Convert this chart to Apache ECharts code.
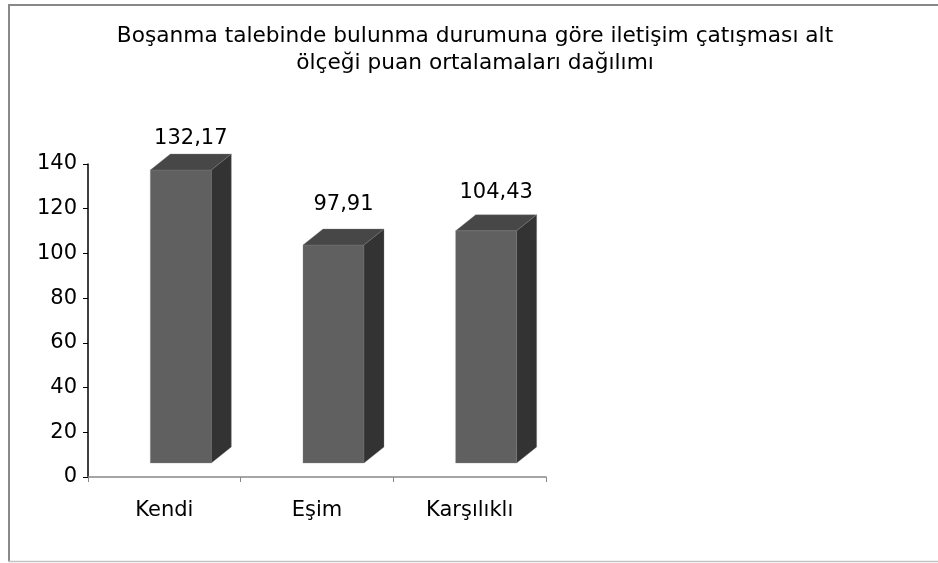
<!DOCTYPE html>
<html>
<head>
<meta charset="utf-8">
<script src="https://cdn.jsdelivr.net/npm/echarts@6/dist/echarts.min.js"></script>
<style>
  html, body { margin: 0; padding: 0; background: #fff; }
  #chart { width: 938px; height: 563px; }
</style>
</head>
<body>
<div id="chart"></div>
<script>
const titleText = 'Boşanma talebinde bulunma durumuna göre iletişim çatışması alt\nölçeği puan ortalamaları dağılımı';
const categories = ['Kendi', 'Eşim', 'Karşılıklı'];
const values = [132.17, 97.91, 104.43];
const yTicks = { min: 0, max: 140, interval: 20 };

const font = '"DejaVu Sans", sans-serif';

// excel style 3d column: front face, top, right side
function renderBar(params, api) {
  const idx = api.value(0);
  const v = api.value(1);
  const base = api.coord([idx, 0]);
  const top = api.coord([idx, v]);
  const cx = base[0], y0 = base[1];
  const h = y0 - top[1];
  const dx = 20, dy = 16, w = 61;
  const fl = cx - 14, fr = fl + w;
  const fb = y0 - 14;
  const ft = y0 - 17.7 - h * 0.979;
  const edge = { stroke: 'rgba(130,130,130,0.55)', lineWidth: 0.6 };
  return {
    type: 'group',
    children: [
      { type: 'polygon', shape: { points: [[fl, ft], [fr, ft], [fr, fb], [fl, fb]] },
        style: Object.assign({ fill: '#606060' }, edge) },
      { type: 'polygon', shape: { points: [[fl, ft], [fl + dx, ft - dy], [fr + dx, ft - dy], [fr, ft]] },
        style: Object.assign({ fill: '#474747' }, edge) },
      { type: 'polygon', shape: { points: [[fr, ft], [fr + dx, ft - dy], [fr + dx, fb - dy], [fr, fb]] },
        style: Object.assign({ fill: '#333333' }, edge) },
      { type: 'text', x: cx + 26.5, y: y0 - 82 - h * 0.868,
        style: { text: v.toFixed(2).replace('.', ','), fill: '#000', font: '21px ' + font,
          align: 'center', verticalAlign: 'middle' } }
    ]
  };
}

const chart = echarts.init(document.getElementById('chart'));
chart.setOption({
  backgroundColor: '#fff',
  animation: false,
  title: {
    text: titleText,
    left: 470,
    top: 18,
    textAlign: 'center',
    textStyle: { fontFamily: font, fontSize: 21.7, fontWeight: 'normal', color: '#000', lineHeight: 27 }
  },
  graphic: [
    { type: 'line', shape: { x1: 9, y1: 5, x2: 9, y2: 562 }, style: { stroke: '#888', lineWidth: 2 } },
    { type: 'line', shape: { x1: 8, y1: 5, x2: 938, y2: 5 }, style: { stroke: '#888', lineWidth: 2 } },
    { type: 'line', shape: { x1: 8, y1: 561.5, x2: 938, y2: 561.5 }, style: { stroke: '#c4c4c4', lineWidth: 1.5 } }
  ],
  grid: { left: 88, right: 392, top: 164, bottom: 86 },
  xAxis: {
    type: 'category',
    data: categories,
    axisLine: { lineStyle: { color: '#888', width: 1.5 } },
    axisTick: { show: true, length: 5, lineStyle: { color: '#888' } },
    axisLabel: { color: '#000', fontFamily: font, fontSize: 21, margin: 23 },
    splitLine: { show: false }
  },
  yAxis: {
    type: 'value',
    min: yTicks.min,
    max: yTicks.max,
    interval: yTicks.interval,
    axisLine: { show: true, lineStyle: { color: '#000', width: 1.5 } },
    axisTick: { show: true, length: 5, lineStyle: { color: '#000' } },
    axisLabel: { color: '#000', fontFamily: font, fontSize: 21, margin: 11 },
    splitLine: { show: false }
  },
  series: [{
    type: 'custom',
    renderItem: renderBar,
    data: values.map((v, i) => [i, v]),
    encode: { x: 0, y: 1 }
  }]
});
</script>
</body>
</html>
